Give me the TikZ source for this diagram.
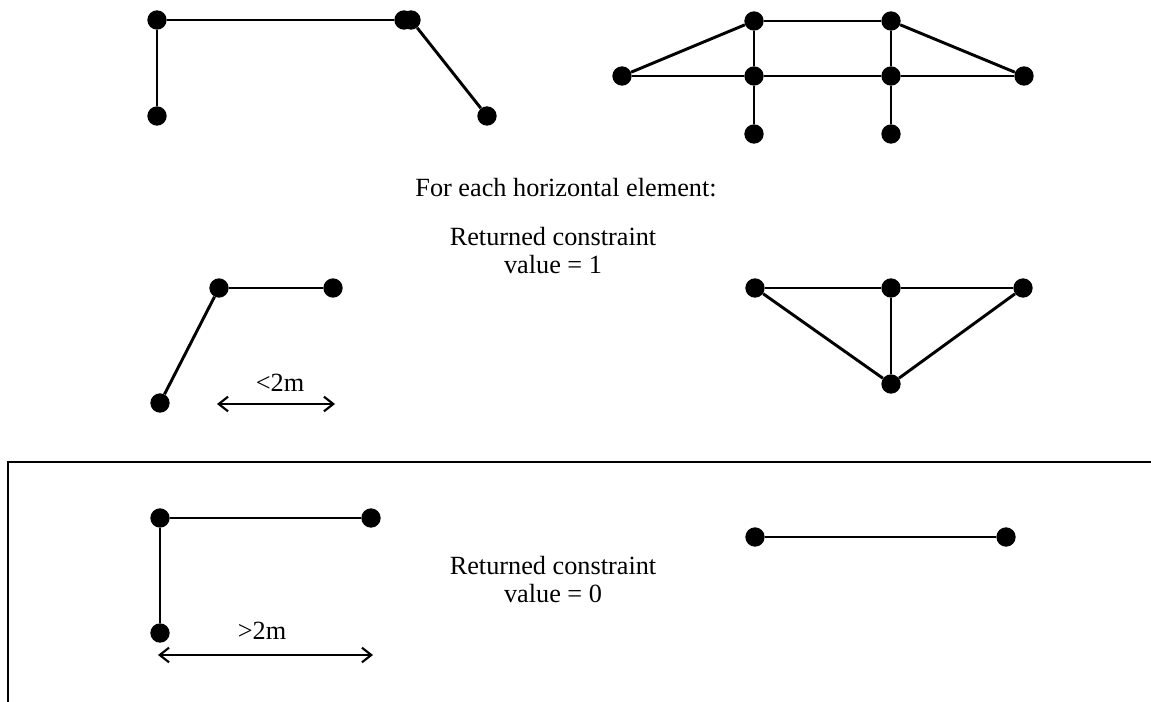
\documentclass[tikz,border=0pt]{standalone}
\usepackage{fontspec}
\setmainfont{Liberation Serif}
\usetikzlibrary{arrows.meta}

\tikzset{
  dot/.style={circle,fill=black,inner sep=0pt,minimum size=14.5pt},
  bar/.style={line width=2.2pt},
  span/.style={line width=1.6pt,{Straight Barb[length=7pt,width=11pt]}-{Straight Barb[length=7pt,width=11pt]}},
  txt/.style={align=center,font=\fontsize{19.7}{21}\selectfont}
}

\begin{document}
\begin{tikzpicture}[x=0.75pt,y=-0.75pt]
\useasboundingbox (0,0) rectangle (1151,702);

% Linha dobrada (canto superior esquerdo)
\node[dot] (a1) at (157,20) {};
\node[dot] (a2) at (157,116) {};
\node[dot] (a3) at (404,20) {};
\node[dot] (a4) at (411,20) {};
\node[dot] (a5) at (487,116) {};
\draw[bar] (a1) -- (a2);
\draw[bar] (a1) -- (a3);
\draw[bar] (a4) -- (a5);

% Estrutura com duas colunas
\node[dot] (b1) at (754,21) {};
\node[dot] (b2) at (891,21) {};
\node[dot] (b3) at (622,76) {};
\node[dot] (b4) at (754,76) {};
\node[dot] (b5) at (891,76) {};
\node[dot] (b6) at (1024,76) {};
\node[dot] (b7) at (754,134) {};
\node[dot] (b8) at (891,134) {};
\draw[bar] (b1) -- (b2);
\draw[bar] (b3) -- (b4) -- (b5) -- (b6);
\draw[bar] (b3) -- (b1);
\draw[bar] (b2) -- (b6);
\draw[bar] (b1) -- (b4) -- (b7);
\draw[bar] (b2) -- (b5) -- (b8);

\node[txt] (t1) at (566,188) {For each horizontal element:};
\node[txt] (t2) at (553,251) {Returned constraint\\value = 1};

% Elemento curto (< 2m)
\node[dot] (c1) at (219,288) {};
\node[dot] (c2) at (333,288) {};
\node[dot] (c3) at (160,403) {};
\draw[bar] (c1) -- (c2);
\draw[bar] (c1) -- (c3);
\coordinate (c4) at (217,404);
\coordinate (c5) at (335,404);
\draw[span] (c4) -- (c5);
\node[txt] (c6) at (280,383) {<2m};

% Treliça triangular
\node[dot] (d1) at (755,288) {};
\node[dot] (d2) at (891,288) {};
\node[dot] (d3) at (1023,288) {};
\node[dot] (d4) at (891,384) {};
\draw[bar] (d1) -- (d2) -- (d3);
\draw[bar] (d2) -- (d4);
\draw[bar] (d1) -- (d4) -- (d3);

% Moldura inferior
\coordinate (f1) at (8,702);
\coordinate (f2) at (8,462);
\coordinate (f3) at (1151,462);
\draw[bar] (f1) -- (f2) -- (f3);

% Elemento longo (> 2m)
\node[dot] (e1) at (160,518) {};
\node[dot] (e2) at (371,518) {};
\node[dot] (e3) at (160,633) {};
\draw[bar] (e1) -- (e2);
\draw[bar] (e1) -- (e3);
\coordinate (e4) at (158,655);
\coordinate (e5) at (373,655);
\draw[span] (e4) -- (e5);
\node[txt] (e6) at (262,631) {>2m};

\node[txt] (t3) at (553,580) {Returned constraint\\value = 0};

% Barra isolada
\node[dot] (g1) at (755,537) {};
\node[dot] (g2) at (1006,537) {};
\draw[bar] (g1) -- (g2);

\end{tikzpicture}
\end{document}
